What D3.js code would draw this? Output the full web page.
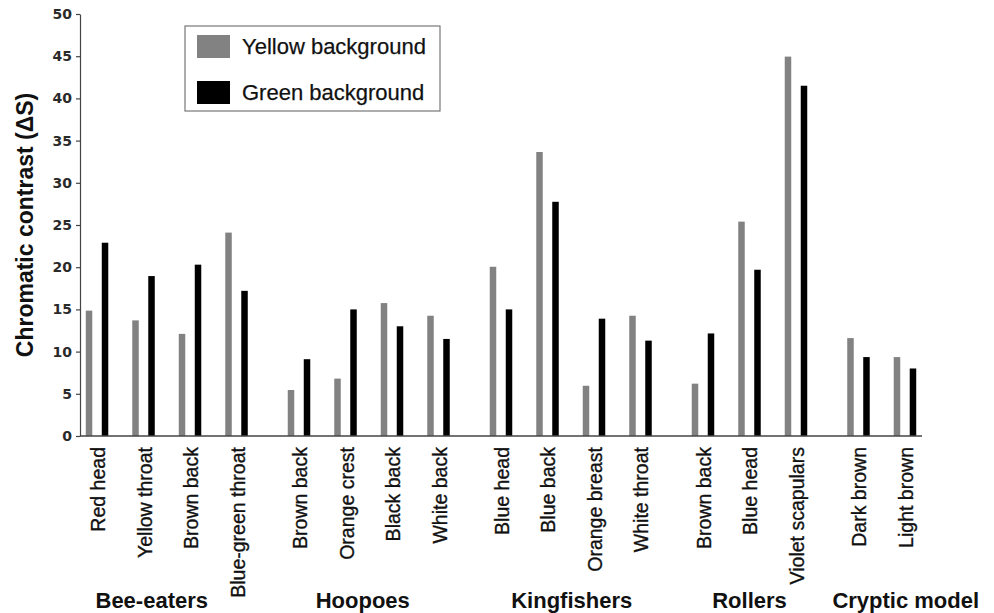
<!DOCTYPE html>
<html>
<head>
<meta charset="utf-8">
<script src="https://cdn.jsdelivr.net/npm/d3@7"></script>
<style>
  html, body { margin: 0; padding: 0; background: #fff; }
  svg { display: block; }
  .axis path, .axis line { stroke: #444; stroke-width: 1.2; }
  .axis text { font-family: "DejaVu Sans", sans-serif; font-weight: bold; font-size: 14px; fill: #2a2a2a; }
</style>
</head>
<body>
<svg width="994" height="613"></svg>
<script>
const groups = ["Bee-eaters", "Hoopoes", "Kingfishers", "Rollers", "Cryptic model"]
const categories = [
  "Red head", "Yellow throat", "Brown back", "Blue-green throat",
  "Brown back", "Orange crest", "Black back", "White back",
  "Blue head", "Blue back", "Orange breast", "White throat",
  "Brown back", "Blue head", "Violet scapulars",
  "Dark brown", "Light brown"
]
const groupOf = [0, 0, 0, 0, 1, 1, 1, 1, 2, 2, 2, 2, 3, 3, 3, 4, 4]
const yellowBg = [14.85, 13.7, 12.1, 24.1, 5.45, 6.8, 15.75, 14.25, 20.05, 33.65, 5.95, 14.25, 6.2, 25.4, 44.95, 11.6, 9.35]
const greenBg = [22.9, 18.95, 20.3, 17.2, 9.1, 15.0, 13.0, 11.5, 15.0, 27.75, 13.9, 11.3, 12.15, 19.7, 41.5, 9.35, 8.0]
const yTicks = [0, 5, 10, 15, 20, 25, 30, 35, 40, 45, 50]
const seriesNames = ["Yellow background", "Green background"]
const seriesColors = ["#828282", "#000000"]

const svg = d3.select("svg")

// slot position: category index plus a small extra gap between groups
const groupGap = 0.344
const slot = i => i + groupOf[i] * groupGap

const x = d3.scaleLinear().domain([-0.366, 17.742]).range([80, 922])
const y = d3.scaleLinear().domain([0, 50]).range([436, 14])

const barW = 6.5
const barOff = 8

const rows = categories.map((c, i) => ({ name: c, i, yellow: yellowBg[i], green: greenBg[i] }))

// bars
svg.append("g").selectAll("rect.yellow")
  .data(rows)
  .enter().append("rect")
  .attr("x", d => x(slot(d.i)) - barOff - barW / 2)
  .attr("y", d => y(d.yellow))
  .attr("width", barW)
  .attr("height", d => y(0) - y(d.yellow))
  .attr("fill", seriesColors[0])

svg.append("g").selectAll("rect.green")
  .data(rows)
  .enter().append("rect")
  .attr("x", d => x(slot(d.i)) + barOff - barW / 2)
  .attr("y", d => y(d.green))
  .attr("width", barW)
  .attr("height", d => y(0) - y(d.green))
  .attr("fill", seriesColors[1])

// y axis
svg.append("g")
  .attr("class", "axis")
  .attr("transform", `translate(${x.range()[0]},0)`)
  .call(d3.axisLeft(y).tickValues(yTicks).tickSize(4).tickPadding(4).tickSizeOuter(0))

// x baseline
svg.append("line")
  .attr("x1", x.range()[0]).attr("x2", x.range()[1])
  .attr("y1", y(0)).attr("y2", y(0))
  .attr("stroke", "#444").attr("stroke-width", 1.4)

// category labels (narrow, rotated)
svg.append("g").selectAll("text")
  .data(rows)
  .enter().append("text")
  .attr("transform", d => `translate(${x(slot(d.i)) + 8},447) rotate(-90) scale(0.93,1)`)
  .attr("text-anchor", "end")
  .style("font-family", "'Liberation Sans', Arial, sans-serif")
  .style("font-size", "21px")
  .style("fill", "#111")
  .style("stroke", "#111")
  .style("stroke-width", 0.35)
  .text(d => d.name)

// group labels
const groupNudge = [-15, -6, 1, 0, 24]
svg.append("g").selectAll("text")
  .data(groups)
  .enter().append("text")
  .attr("x", (g, gi) => {
    const idx = groupOf.map((v, i) => v === gi ? i : -1).filter(i => i >= 0)
    return (x(slot(idx[0])) + x(slot(idx[idx.length - 1]))) / 2 + groupNudge[gi]
  })
  .attr("y", 608)
  .attr("text-anchor", "middle")
  .style("font-family", "'Liberation Sans', Arial, sans-serif")
  .style("font-weight", "bold")
  .style("font-size", "22px")
  .style("fill", "#111")
  .text(d => d)

// y title
svg.append("text")
  .attr("transform", `translate(33,${(y(0) + y(50)) / 2}) rotate(-90)`)
  .attr("text-anchor", "middle")
  .style("font-family", "'Liberation Sans', Arial, sans-serif")
  .style("font-weight", "bold")
  .style("font-size", "23px")
  .style("fill", "#111")
  .text("Chromatic contrast (ΔS)")

// legend
const legend = svg.append("g").attr("transform", "translate(185,26)")
legend.append("rect")
  .attr("width", 255).attr("height", 85)
  .attr("fill", "#fff").attr("stroke", "#777").attr("stroke-width", 1.2)
seriesNames.forEach((s, k) => {
  legend.append("rect")
    .attr("x", 12).attr("y", 9 + k * 46)
    .attr("width", 33).attr("height", 23)
    .attr("fill", seriesColors[k])
  legend.append("text")
    .attr("x", 57).attr("y", 28 + k * 46)
    .style("font-family", "'Liberation Sans', Arial, sans-serif")
    .style("font-size", "22px")
    .style("fill", "#111")
    .style("stroke", "#111")
    .style("stroke-width", 0.25)
    .text(s)
})
</script>
</body>
</html>
